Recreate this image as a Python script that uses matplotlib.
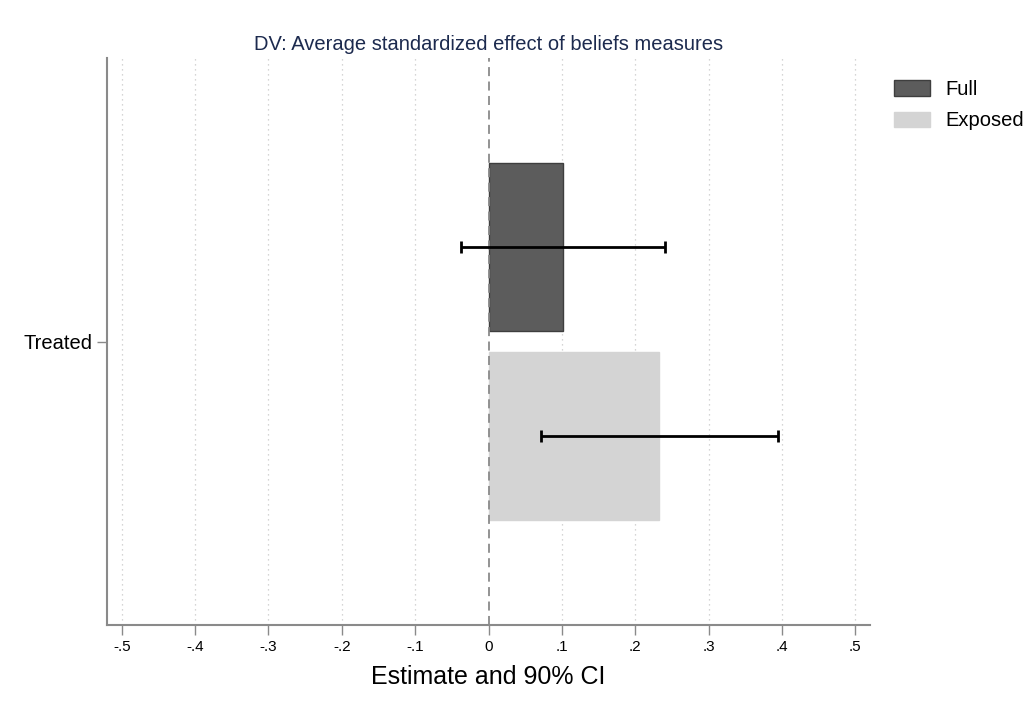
import matplotlib

matplotlib.use("Agg")
import matplotlib.pyplot as plt  # noqa: E402
from matplotlib.patches import Patch  # noqa: E402

# data
groups = ["Full", "Exposed"]
estimates = [0.101, 0.233]
ci_low = [-0.037, 0.072]
ci_high = [0.240, 0.395]
y_pos = [0.25, -0.25]
colors = ["#5c5c5c", "#d4d4d4"]
edges = ["#3e3e3e", "#d4d4d4"]
xticks = [-0.5, -0.4, -0.3, -0.2, -0.1, 0, 0.1, 0.2, 0.3, 0.4, 0.5]
xticklabels = ["-.5", "-.4", "-.3", "-.2", "-.1", "0", ".1", ".2", ".3", ".4", ".5"]

plt.rcParams["font.family"] = ["Liberation Sans", "DejaVu Sans"]

fig = plt.figure(figsize=(10.36, 7.05), dpi=100)
ax = fig.add_axes([0.1033, 0.1135, 0.7365, 0.8042])

for x in xticks:
    if x == 0:
        continue
    ax.axvline(x, color="#c8c8c8", linestyle=(0, (1, 3)), linewidth=0.9, zorder=0)
ax.axvline(0, color="#8a8a8a", linestyle=(0, (5, 3)), linewidth=1.3, zorder=3)

for g, est, lo, hi, y, c, e in zip(groups, estimates, ci_low, ci_high, y_pos, colors, edges):
    ax.barh(y, est, height=0.444, color=c, edgecolor=e, linewidth=1.0, zorder=2)
    ax.errorbar(est, y, xerr=[[est - lo], [hi - est]], fmt="none", ecolor="black",
                elinewidth=2.0, capsize=4, capthick=2.0, zorder=4)

ax.set_xlim(-0.52, 0.52)
ax.set_ylim(-0.75, 0.75)
ax.set_xticks(xticks)
ax.set_xticklabels(xticklabels, fontsize=11)
ax.set_yticks([0])
ax.set_yticklabels(["Treated"], fontsize=14.5)
ax.tick_params(axis="both", color="#8a8a8a", length=7, width=1.0)
ax.tick_params(axis="x", pad=4)
for side in ["top", "right"]:
    ax.spines[side].set_visible(False)
for side in ["left", "bottom"]:
    ax.spines[side].set_color("#8a8a8a")
    ax.spines[side].set_linewidth(1.5)

ax.set_xlabel("Estimate and 90% CI", fontsize=18, labelpad=8)
ax.set_title("DV: Average standardized effect of beliefs measures", fontsize=14.5,
             color="#1c2a4e", pad=6)

handles = [Patch(facecolor=c, edgecolor=e, linewidth=1.0) for c, e in zip(colors, edges)]
fig.legend(handles, groups, loc="upper left", bbox_to_anchor=(0.845, 0.912),
           frameon=False, fontsize=14.5, handlelength=1.8, handleheight=0.8,
           labelspacing=0.6, handletextpad=0.75)

fig.savefig("out.png", dpi=100)
